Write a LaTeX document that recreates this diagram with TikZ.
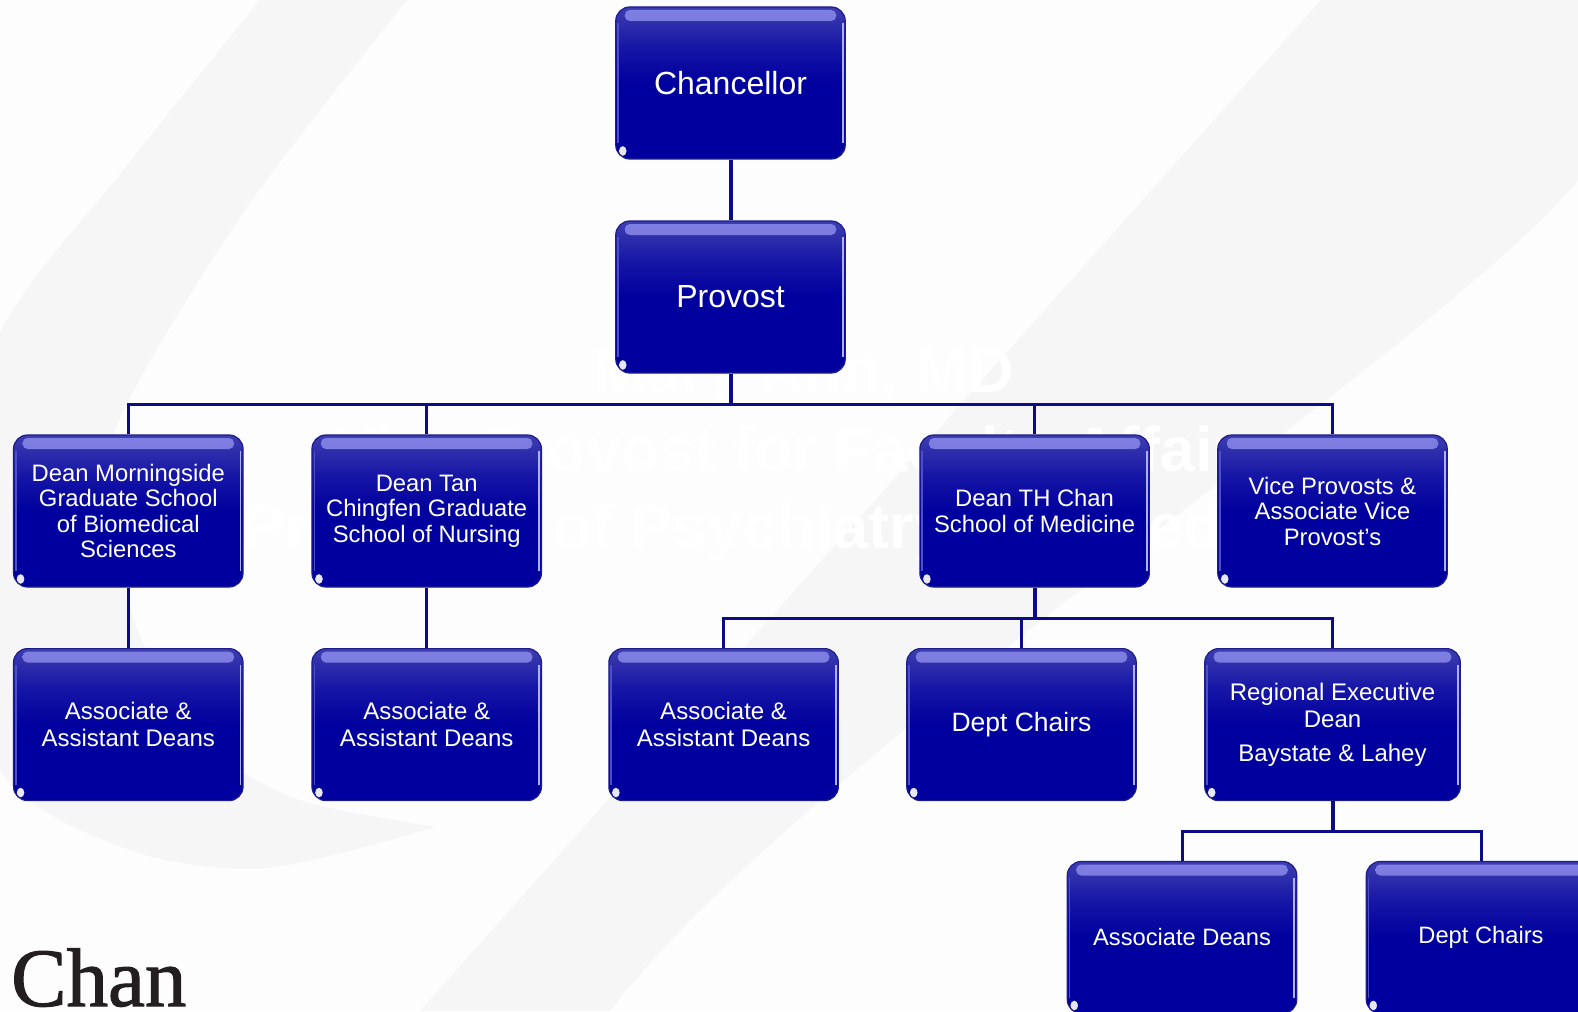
\documentclass[tikz,border=0pt]{standalone}
\usepackage{fontspec}
\setmainfont{Liberation Sans}
\newfontfamily\chanfont[FakeBold=1.3]{Liberation Serif}
\usetikzlibrary{calc}
\definecolor{bgw}{RGB}{253,253,253}
\definecolor{bgg}{RGB}{246,246,246}
\definecolor{boxdark}{RGB}{0,0,158}
\definecolor{boxmid}{RGB}{22,22,166}
\definecolor{boxtop}{RGB}{62,62,176}
\definecolor{glosshi}{RGB}{128,128,228}
\definecolor{glosslo}{RGB}{66,66,180}
\definecolor{edgehi}{RGB}{175,175,255}
\definecolor{edgelo}{RGB}{78,78,200}
\definecolor{boxline}{RGB}{28,28,140}
\definecolor{conncol}{RGB}{12,12,132}
\definecolor{chancol}{RGB}{35,31,32}
\pgfdeclareverticalshading{boxshade}{100bp}{color(0bp)=(boxdark); color(25bp)=(boxdark); color(50bp)=(boxdark); color(62bp)=(boxmid); color(75bp)=(boxtop); color(100bp)=(boxtop)}
\tikzset{
  orgbox/.style={draw=boxline, line width=1.2pt, rounded corners=14pt, shading=boxshade,
    minimum width=229.5pt, minimum height=152pt, inner sep=0pt, text=white, align=center,
    path picture={
      \shade[top color=glosshi, bottom color=glosslo, rounded corners=5pt]
        ([xshift=9pt,yshift=-3pt]path picture bounding box.north west) rectangle
        ([xshift=-9pt,yshift=-14pt]path picture bounding box.north east);
      \draw[edgehi, line width=1.8pt, sharp corners]
        ([xshift=-2.6pt,yshift=-16pt]path picture bounding box.north east) --
        ([xshift=-2.6pt,yshift=16pt]path picture bounding box.south east);
      \draw[edgelo, line width=1.6pt, sharp corners]
        ([xshift=2.4pt,yshift=-16pt]path picture bounding box.north west) --
        ([xshift=2.4pt,yshift=16pt]path picture bounding box.south west);
      \fill[white, opacity=0.9]
        ([xshift=7pt,yshift=8pt]path picture bounding box.south west) ellipse (3.8pt and 4.8pt);
    }},
  fbig/.style={font=\fontsize{32}{36}\selectfont},
  fmid/.style={font=\fontsize{23.8}{25.5}\selectfont},
  fass/.style={font=\fontsize{24}{27}\selectfont},
  fdc/.style={font=\fontsize{26.5}{30}\selectfont},
  fsm/.style={font=\fontsize{23.7}{27}\selectfont},
  conn/.style={draw=conncol, line width=3pt},
  trunk/.style={draw=conncol, line width=4pt},
  wm/.style={anchor=base, text=white, inner sep=0pt, font=\bfseries\fontsize{63}{63}\selectfont},
}
\begin{document}
\begin{tikzpicture}[x=1pt, y=-1pt]
\useasboundingbox (0,0) rectangle (1578,1011);
% background
\fill[bgw] (0,0) rectangle (1578,1011);
\begin{scope}
\clip (0,0) rectangle (1578,1011);
\fill[bgg] plot[smooth] coordinates {(260,0) (126,167) (0,333) (-60,550) (0,770) (130,850) (267,868) (435,827)}
  -- plot[smooth] coordinates {(435,827) (300,800) (210,747) (140,637) (114,520) (119,420) (245,210) (407,0)} -- cycle;
\fill[bgg] (1321,0) -- (1600,0) -- (1600,150) -- (1578,180)
  .. controls (1450,340) and (800,760) .. (610,1011) -- (420,1011) -- cycle;
\end{scope}
% faint watermark
\node[wm] (wm1) at (804,392) {Mary Ann, MD};
\node[wm] (wm2) at (804,471) {Vice Provost for Faculty Affairs};
\node[wm] (wm3) at (804,548) {Professor of Psychiatry and Medicine};
% boxes
\node[orgbox, fbig] (chan) at (730.5,83) {Chancellor};
\node[orgbox, fbig] (prov) at (730.5,297) {Provost};
\node[orgbox, fmid] (morn) at (128.3,511) {Dean Morningside\\Graduate School\\of Biomedical\\Sciences};
\node[orgbox, fmid] (tan) at (426.7,511) {Dean Tan\\Chingfen Graduate\\School of Nursing};
\node[orgbox, fmid] (thc) at (1034.6,511) {Dean TH Chan\\School of Medicine};
\node[orgbox, fmid] (vp) at (1332.5,511) {Vice Provosts \&\\Associate Vice\\Provost's};
\node[orgbox, fass] (a1) at (128.3,724.6) {Associate \&\\Assistant Deans};
\node[orgbox, fass] (a2) at (426.7,724.6) {Associate \&\\Assistant Deans};
\node[orgbox, fass] (a3) at (723.6,724.6) {Associate \&\\Assistant Deans};
\node[orgbox, fdc] (dc) at (1021.5,724.6) {Dept Chairs};
\node[orgbox, fass, minimum width=255.6pt] (reg) at (1332.5,724.6) {Regional Executive\\Dean\\[7pt]Baystate \& Lahey};
\node[orgbox, fsm] (ad) at (1182,937.5) {Associate Deans};
\node[orgbox, fsm] (dc2) at (1481,937.5) {Dept Chairs};
% connectors
\coordinate (bus1) at (730.5,404);
\coordinate (bus2) at (1034.6,618);
\coordinate (bus3) at (1332.5,831);
\draw[trunk] (chan.south) -- (prov.north);
\draw[trunk] (prov.south) -- (bus1);
\foreach \c in {morn,tan,thc,vp} \draw[conn] (\c.north) |- (bus1);
\draw[conn] (morn.south) -- (a1.north);
\draw[conn] (tan.south) -- (a2.north);
\draw[trunk] (thc.south) -- (bus2);
\foreach \c in {a3,dc,reg} \draw[conn] (\c.north) |- (bus2);
\draw[trunk] (reg.south) -- (bus3);
\foreach \c in {ad,dc2} \draw[conn] (\c.north) |- (bus3);
% logo text
\node[anchor=base west, inner sep=0pt, text=chancol, font=\chanfont\fontsize{83}{83}\selectfont] (logo) at (11,1006) {Chan};
\end{tikzpicture}
\end{document}
